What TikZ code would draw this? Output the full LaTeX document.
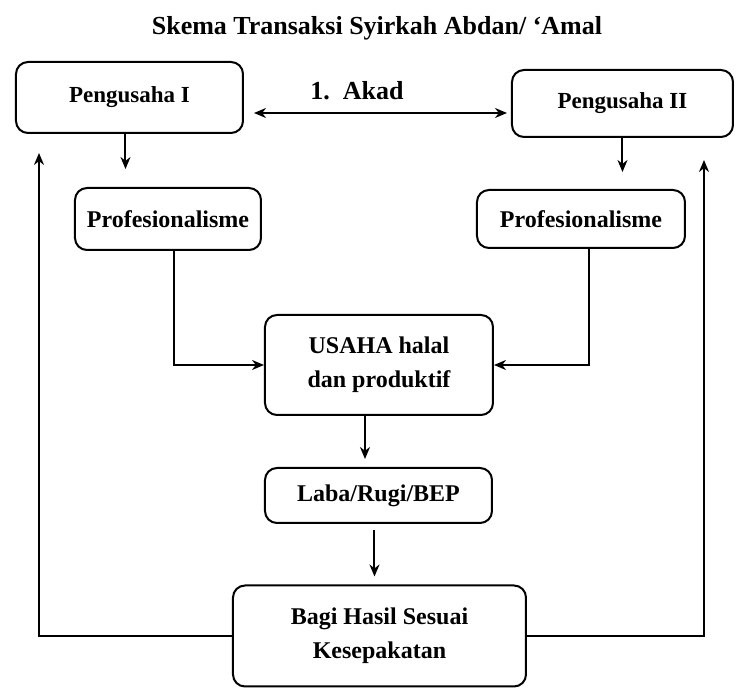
\documentclass[tikz,border=0pt]{standalone}
\usepackage{fontspec}
\setmainfont{Liberation Serif}
\usetikzlibrary{arrows.meta}

\begin{document}
\begin{tikzpicture}[
    x=0.5pt, y=-0.5pt,
    box/.style={rectangle, draw, rounded corners=6pt, line width=1pt, align=center, font=\bfseries\fontsize{12}{17}\selectfont},
    label/.style={draw=none, font=\bfseries\fontsize{13}{15}\selectfont},
    ->, >={Stealth[length=6pt, width=5pt]}, line width=1pt
]
\useasboundingbox (0,0) rectangle (736,689);

% Title
\node[label] (title) at (377, 28) {Skema Transaksi Syirkah Abdan/ `Amal};

% Partners
\node[box, minimum width=113.5pt, minimum height=35.5pt, font=\bfseries\fontsize{11.5}{14}\selectfont] (p1) at (129.5, 97.5) {Pengusaha I};
\node[box, minimum width=110.5pt, minimum height=33.5pt, font=\bfseries\fontsize{11.5}{14}\selectfont] (p2) at (622.5, 103.5) {Pengusaha II};
\node[label] (akad) at (357, 91) {1.\ \ Akad};
\coordinate (ak) at (380, 113);

% Contributions
\node[box, minimum width=93pt, minimum height=31pt] (prof1) at (168, 219) {Profesionalisme};
\node[box, minimum width=104pt, minimum height=29pt] (prof2) at (581, 219) {Profesionalisme};

% Business and result
\node[box, minimum width=114pt, minimum height=50pt] (usaha) at (379, 365) {USAHA halal\\dan produktif};
\node[box, minimum width=113.5pt, minimum height=27.5pt] (laba) at (378.5, 495.5) {Laba/Rugi/BEP};
\node[box, minimum width=146.5pt, minimum height=50.5pt] (bagi) at (379.5, 636) {Bagi Hasil Sesuai\\Kesepakatan};

% Return lines
\coordinate (back1) at (39, 153);
\coordinate (back2) at (704, 160);

% Connections
\draw[<->, shorten <=5pt, shorten >=2pt] (p1.east |- ak) -- (p2.west |- ak);
\draw[shorten >=9pt] ([xshift=-2pt]p1.south) -- ([xshift=-2pt]p1.south |- prof1.north);
\draw[shorten >=8.5pt] (p2.south) -- (p2.south |- prof2.north);
\draw ([xshift=3pt]prof1.south) |- (usaha.west);
\draw ([xshift=4pt]prof2.south) |- (usaha.east);
\draw[shorten >=4pt] ([xshift=-7pt]usaha.south) -- ([xshift=-7pt]usaha.south |- laba.north);
\draw[shorten >=4pt, shorten <=3pt] ([xshift=-2pt]laba.south) -- ([xshift=-2pt]laba.south |- bagi.north);
\draw (bagi.west) -| (back1);
\draw (bagi.east) -| (back2);

\end{tikzpicture}
\end{document}
